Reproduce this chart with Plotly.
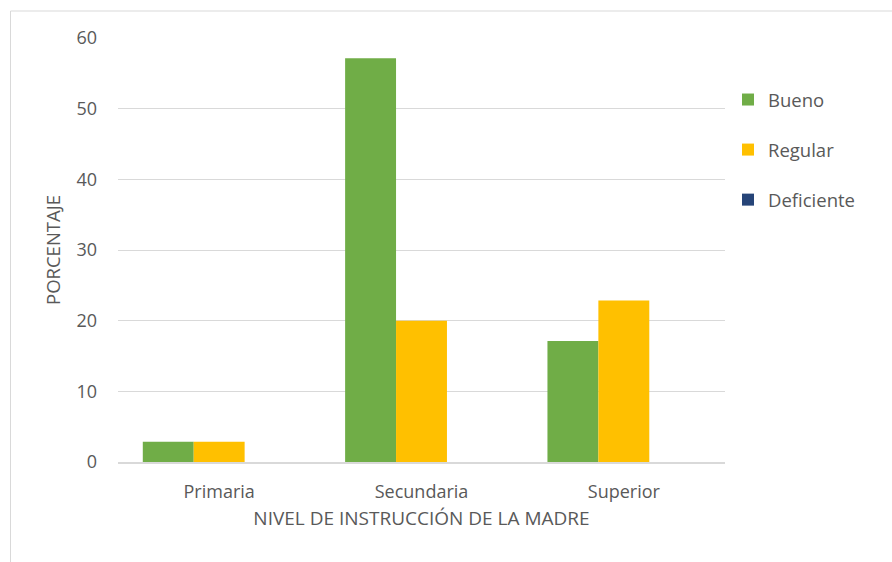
import plotly.graph_objects as go

categories = ["Primaria", "Secundaria", "Superior"]
bueno = [2.86, 57.14, 17.14]
regular = [2.86, 20.0, 22.86]
deficiente = [0, 0, 0]
series_names = ["Bueno", "Regular", "Deficiente"]
colors = ["#70ad47", "#ffc000", "#264478"]
y_ticks = [0, 10, 20, 30, 40, 50, 60]

FONT = "Open Sans"
TXT = "#595959"

fig = go.Figure()
for i, (name, vals, col) in enumerate(zip(series_names, [bueno, regular, deficiente], colors)):
    fig.add_trace(go.Bar(x=categories, y=vals, name=name, marker=dict(color=col, line=dict(width=0)),
                         legendgroup=name))

W, H = 892, 562
ml, mr, mt, mb = 118, 167, 38, 100
pw, ph = W - ml - mr, H - mt - mb

def px_x(p):
    return (p - ml) / pw

def px_y(p):
    return (H - mb - p) / ph

fig.update_layout(
    width=W, height=H,
    margin=dict(l=ml, r=mr, t=mt, b=mb, pad=0),
    paper_bgcolor="white", plot_bgcolor="white",
    barmode="group", bargap=0.245, bargroupgap=0,
    font=dict(family=FONT, size=18, color=TXT),
    legend=dict(x=px_x(728), y=px_y(81), xanchor="left", yanchor="top",
                traceorder="grouped", tracegroupgap=23, font=dict(size=18.5, color=TXT),
                itemwidth=30, bgcolor="rgba(0,0,0,0)"),
    xaxis=dict(showgrid=False, showline=True, linecolor="#d9d9d9", linewidth=2,
               ticks="", ticklabelstandoff=12, tickfont=dict(size=18),
               title=dict(text="NIVEL DE INSTRUCCIÓN DE LA MADRE", standoff=10,
                          font=dict(size=19, color=TXT))),
    yaxis=dict(range=[0, 60], tickvals=y_ticks, showgrid=True, gridcolor="#d9d9d9", gridwidth=1,
               zeroline=False, showline=False, ticks="", ticklabelstandoff=20, tickfont=dict(size=18),
               title=dict(text="PORCENTAJE", standoff=10, font=dict(size=18.5, color=TXT))),
    shapes=[
        dict(type="line", xref="paper", yref="paper", x0=px_x(10.5), x1=px_x(10.5),
             y0=px_y(570), y1=px_y(11), line=dict(color="#d9d9d9", width=1)),
        dict(type="line", xref="paper", yref="paper", x0=px_x(10.5), x1=px_x(900),
             y0=px_y(11), y1=px_y(11), line=dict(color="#d9d9d9", width=1)),
    ],
    showlegend=True,
)

fig.write_html("out.html")
